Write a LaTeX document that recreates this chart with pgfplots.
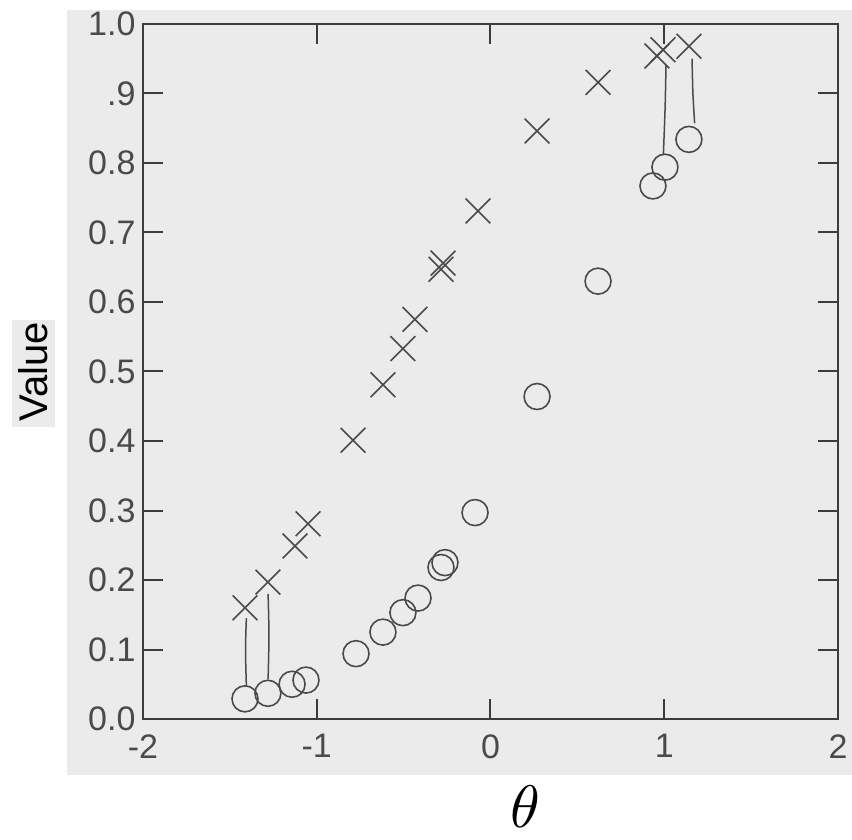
\documentclass[border=0pt]{standalone}
\usepackage{fontspec}
\setmainfont{Liberation Sans}
\usepackage{graphicx}
\usepackage{pgfplots}
\pgfplotsset{compat=1.18}
\definecolor{bg}{HTML}{EBEBEB}
\definecolor{ink}{HTML}{4A4A4A}
\definecolor{frame}{HTML}{3C3C3C}
\begin{document}
\begin{tikzpicture}
\fill[bg] (-76pt,-56pt) rectangle (709pt,709pt);
\fill[bg] (-131pt,292pt) rectangle (-88pt,399pt);
\begin{axis}[
  at={(0,0)}, anchor=south west, scale only axis,
  width=695pt, height=695pt,
  xmin=-2, xmax=2, ymin=0, ymax=1,
  xtick={-2,-1,0,1,2}, xticklabels={-2,-1,0,1,2},
  ytick={0,0.1,0.2,0.3,0.4,0.5,0.6,0.7,0.8,0.9,1.0},
  yticklabels={0.0,0.1,0.2,0.3,0.4,0.5,0.6,0.7,0.8,.9,1.0},
  tick align=inside, major tick length=20pt,
  axis line style={frame, line width=2pt},
  every tick/.style={frame, line width=2pt},
  tick label style={font=\fontsize{34}{40}\selectfont, text=ink},
  xticklabel style={yshift=-12pt},
  yticklabel style={xshift=-4pt},
  ylabel={Value},
  ylabel style={at={(axis description cs:-0.158,0.5)}, anchor=center, font=\fontsize{40}{44}\selectfont, text=black},
  xlabel={\scalebox{6.0}{$\theta$}},
  xlabel style={at={(axis description cs:0.55,-0.126)}, anchor=center, text=black},
  clip=false,
]
\addplot[ink, line width=1.5pt, smooth] coordinates {(-1.405,0.145) (-1.41,0.10) (-1.405,0.047)};
\addplot[ink, line width=1.5pt, smooth] coordinates {(-1.28,0.18) (-1.275,0.12) (-1.28,0.057)};
\addplot[ink, line width=1.5pt, smooth] coordinates {(1.01,0.940) (1.005,0.88) (0.995,0.812)};
\addplot[ink, line width=1.5pt, smooth] coordinates {(1.16,0.950) (1.165,0.90) (1.175,0.857)};
\addplot[only marks, mark=x, mark size=17.5pt, ink, mark options={line width=1.6pt}] coordinates {
(-1.413,0.160) (-1.281,0.197) (-1.125,0.249) (-1.050,0.281) (-0.791,0.401)
(-0.619,0.481) (-0.504,0.533) (-0.435,0.575) (-0.285,0.647) (-0.273,0.656)
(-0.072,0.731) (0.268,0.846) (0.619,0.916) (0.958,0.954) (0.993,0.963) (1.142,0.968)};
\addplot[only marks, mark=o, mark size=13pt, ink, mark options={line width=1.6pt}] coordinates {
(-1.413,0.029) (-1.281,0.037) (-1.142,0.050) (-1.062,0.056) (-0.774,0.094)
(-0.619,0.125) (-0.504,0.153) (-0.417,0.174) (-0.285,0.218) (-0.262,0.225)
(-0.089,0.297) (0.268,0.464) (0.619,0.630) (0.935,0.767) (1.004,0.794) (1.142,0.834)};
\end{axis}
\pgfresetboundingbox
\path (-143pt,-120pt) rectangle (709pt,719pt);
\end{tikzpicture}
\end{document}
